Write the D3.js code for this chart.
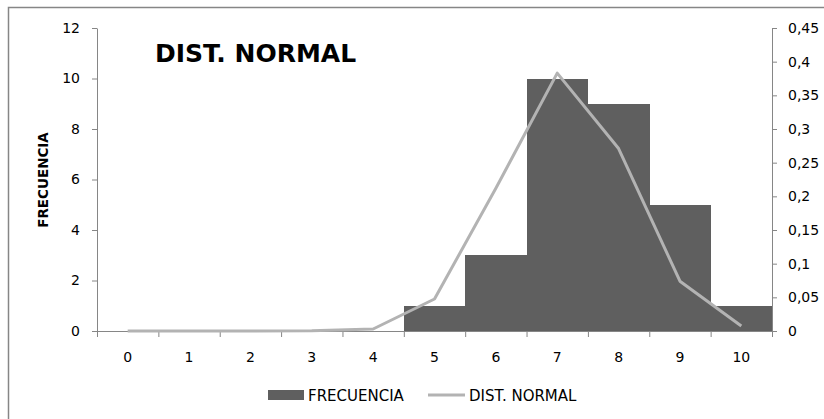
<!DOCTYPE html>
<html>
<head>
<meta charset="utf-8">
<script src="https://cdn.jsdelivr.net/npm/d3@7"></script>
<style>
  html, body { margin: 0; padding: 0; background: #fff; }
  svg { display: block; font-family: "DejaVu Sans", sans-serif; }
</style>
</head>
<body>
<svg id="chart" width="824" height="419"></svg>
<script>
// Histogram of frequencies with the fitted normal density on a second axis
const categories = [0, 1, 2, 3, 4, 5, 6, 7, 8, 9, 10];
const frecuencia = [0, 0, 0, 0, 0, 1, 3, 10, 9, 5, 1];
const distNormal = [0, 0, 0, 0.0003, 0.003, 0.0475, 0.212, 0.383, 0.271, 0.074, 0.0074];
const leftTicks = [0, 2, 4, 6, 8, 10, 12];
const rightTicks = [0, 0.05, 0.1, 0.15, 0.2, 0.25, 0.3, 0.35, 0.4, 0.45];
const titleText = "DIST. NORMAL";
const yTitle = "FRECUENCIA";
const seriesNames = ["FRECUENCIA", "DIST. NORMAL"];

const svg = d3.select("#chart");
const axisColor = "#868686";
const barColor = "#5f5f5f";
const lineColor = "#b3b3b3";
const fontFamily = "'DejaVu Sans', sans-serif";

const plot = { left: 97, right: 772, top: 28, bottom: 331 };

// chart frame
svg.append("rect")
  .attr("x", 8.5).attr("y", 7.5)
  .attr("width", 830).attr("height", 430)
  .attr("fill", "#fff")
  .attr("stroke", axisColor).attr("stroke-width", 1.5);

const x = d3.scaleBand().domain(categories).range([plot.left, plot.right]).padding(0);
const xEdges = d3.scaleLinear().domain([0, categories.length]).range([plot.left, plot.right]);
const yL = d3.scaleLinear().domain([0, 12]).range([plot.bottom, plot.top]);
const yR = d3.scaleLinear().domain([0, 0.45]).range([plot.bottom, plot.top]);

// bars (no gap between categories)
svg.append("g")
  .attr("shape-rendering", "crispEdges")
  .selectAll("rect")
  .data(categories.map((c, i) => ({ c, v: frecuencia[i] })))
  .join("rect")
  .attr("x", d => x(d.c))
  .attr("y", d => yL(d.v))
  .attr("width", x.bandwidth() + 0.5)
  .attr("height", d => yL(0) - yL(d.v))
  .attr("fill", barColor);

function styleAxis(g) {
  g.select(".domain").attr("stroke", axisColor).attr("stroke-width", 1);
  g.selectAll(".tick line").attr("stroke", axisColor).attr("stroke-width", 1);
  g.selectAll(".tick text").attr("fill", "#000").style("font-size", "14px").style("font-family", fontFamily);
}

// left axis
svg.append("g")
  .attr("transform", `translate(${plot.left},0)`)
  .call(d3.axisLeft(yL).tickValues(leftTicks).tickSize(5).tickSizeOuter(0).tickPadding(12))
  .call(styleAxis);

// right axis
const fmtComma = d => String(+d.toFixed(2)).replace(".", ",");
svg.append("g")
  .attr("transform", `translate(${plot.right},0)`)
  .call(d3.axisRight(yR).tickValues(rightTicks).tickFormat(fmtComma).tickSize(5).tickSizeOuter(0).tickPadding(11))
  .call(styleAxis);

// x axis: tick marks at category boundaries, labels at centres
svg.append("g")
  .attr("transform", `translate(0,${plot.bottom})`)
  .call(d3.axisBottom(xEdges).tickValues(d3.range(categories.length + 1)).tickFormat("").tickSize(6).tickSizeOuter(0))
  .call(styleAxis);
svg.append("g")
  .attr("transform", `translate(0,${plot.bottom})`)
  .call(d3.axisBottom(x).tickSize(0).tickPadding(21))
  .call(g => g.select(".domain").remove())
  .call(styleAxis);

// normal density line
const line = d3.line()
  .x((d, i) => x(categories[i]) + x.bandwidth() / 2)
  .y(d => yR(d));
svg.append("path")
  .datum(distNormal)
  .attr("d", line)
  .attr("fill", "none")
  .attr("stroke", lineColor)
  .attr("stroke-width", 3)
  .attr("stroke-linejoin", "round");

// title
svg.append("text")
  .attr("x", 155).attr("y", 62)
  .attr("font-size", 25).attr("font-weight", "bold")
  .attr("font-family", fontFamily)
  .attr("fill", "#000")
  .text(titleText);

// y axis title
svg.append("text")
  .attr("transform", "translate(48,180) rotate(-90)")
  .attr("text-anchor", "middle")
  .attr("font-size", 13.5).attr("font-weight", "bold")
  .attr("font-family", fontFamily)
  .attr("fill", "#000")
  .text(yTitle);

// legend
const legend = svg.append("g").attr("font-family", fontFamily).attr("font-size", 15);
legend.append("rect")
  .attr("x", 268).attr("y", 390).attr("width", 36).attr("height", 10)
  .attr("fill", barColor);
legend.append("text")
  .attr("x", 308).attr("y", 401)
  .attr("fill", "#000")
  .text(seriesNames[0]);
legend.append("line")
  .attr("x1", 428).attr("x2", 465).attr("y1", 395).attr("y2", 395)
  .attr("stroke", lineColor).attr("stroke-width", 3);
legend.append("text")
  .attr("x", 469).attr("y", 401)
  .attr("fill", "#000")
  .text(seriesNames[1]);
</script>
</body>
</html>
